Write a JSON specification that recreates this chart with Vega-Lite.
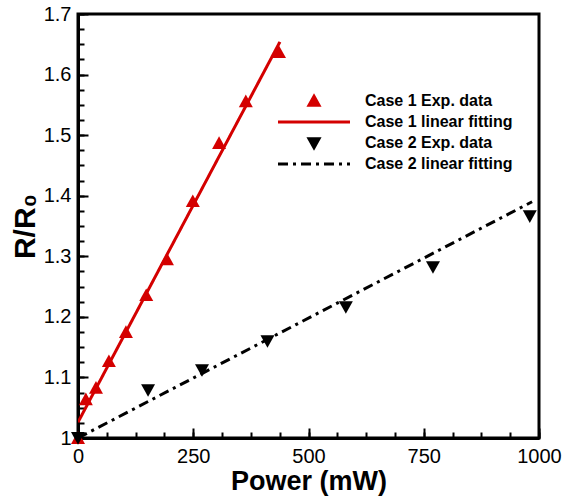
{
  "$schema": "https://vega.github.io/schema/vega-lite/v6.json",
  "width": 461,
  "height": 424,
  "autosize": {"type": "none"},
  "padding": {"left": 78, "top": 14, "right": 27, "bottom": 61},
  "background": "white",
  "data": {
    "values": [
      {"power": 0, "ratio": 1.0, "series": "Case 1 Exp. data", "kind": "exp"},
      {"power": 17, "ratio": 1.064, "series": "Case 1 Exp. data", "kind": "exp"},
      {"power": 39, "ratio": 1.083, "series": "Case 1 Exp. data", "kind": "exp"},
      {"power": 67, "ratio": 1.127, "series": "Case 1 Exp. data", "kind": "exp"},
      {"power": 104, "ratio": 1.175, "series": "Case 1 Exp. data", "kind": "exp"},
      {"power": 148, "ratio": 1.236, "series": "Case 1 Exp. data", "kind": "exp"},
      {"power": 193, "ratio": 1.295, "series": "Case 1 Exp. data", "kind": "exp"},
      {"power": 249, "ratio": 1.391, "series": "Case 1 Exp. data", "kind": "exp"},
      {"power": 306, "ratio": 1.487, "series": "Case 1 Exp. data", "kind": "exp"},
      {"power": 364, "ratio": 1.556, "series": "Case 1 Exp. data", "kind": "exp"},
      {"power": 436, "ratio": 1.637, "series": "Case 1 Exp. data", "kind": "exp"},
      {"power": 0, "ratio": 1.026, "series": "Case 1 linear fitting", "kind": "fit"},
      {"power": 438, "ratio": 1.654, "series": "Case 1 linear fitting", "kind": "fit"},
      {"power": 0, "ratio": 1.0, "series": "Case 2 Exp. data", "kind": "exp"},
      {"power": 152, "ratio": 1.079, "series": "Case 2 Exp. data", "kind": "exp"},
      {"power": 269, "ratio": 1.112, "series": "Case 2 Exp. data", "kind": "exp"},
      {"power": 411, "ratio": 1.16, "series": "Case 2 Exp. data", "kind": "exp"},
      {"power": 581, "ratio": 1.216, "series": "Case 2 Exp. data", "kind": "exp"},
      {"power": 770, "ratio": 1.282, "series": "Case 2 Exp. data", "kind": "exp"},
      {"power": 980, "ratio": 1.366, "series": "Case 2 Exp. data", "kind": "exp"},
      {"power": 0, "ratio": 1.0, "series": "Case 2 linear fitting", "kind": "fit"},
      {"power": 985, "ratio": 1.39, "series": "Case 2 linear fitting", "kind": "fit"}
    ]
  },
  "layer": [
    {
      "transform": [{"filter": "datum.kind === 'fit'"}],
      "mark": {"type": "line", "strokeWidth": 3, "clip": true},
      "encoding": {
        "x": {
          "field": "power", "type": "quantitative",
          "scale": {"domain": [0, 1000], "nice": false, "zero": false},
          "axis": {
            "orient": "bottom", "values": [0, 250, 500, 750, 1000], "format": "d",
            "tickSize": -10, "labelPadding": 18, "domain": true,
            "title": "Power (mW)", "titleFontSize": 27, "titlePadding": 2
          }
        },
        "y": {
          "field": "ratio", "type": "quantitative",
          "scale": {"domain": [1, 1.7], "nice": false, "zero": false},
          "axis": {
            "orient": "left", "values": [1, 1.1, 1.2, 1.3, 1.4, 1.5, 1.6, 1.7], "format": "~g",
            "tickSize": -10, "labelPadding": 17, "domain": true,
            "title": "R/R₀", "titleFontSize": 30, "titlePadding": 3
          }
        },
        "stroke": {
          "field": "series", "type": "nominal",
          "scale": {
            "domain": ["Case 1 Exp. data", "Case 1 linear fitting", "Case 2 Exp. data", "Case 2 linear fitting"],
            "range": ["#d40000", "#d40000", "#000000", "#000000"]
          },
          "legend": {"title": null}
        },
        "strokeDash": {
          "field": "series", "type": "nominal",
          "scale": {
            "domain": ["Case 1 linear fitting", "Case 2 linear fitting"],
            "range": [[1, 0], [10, 5, 3, 5]]
          },
          "legend": null
        }
      }
    },
    {
      "transform": [{"filter": "datum.kind === 'exp'"}],
      "mark": {"type": "point", "filled": true, "opacity": 1, "size": 196},
      "encoding": {
        "x": {
          "field": "power", "type": "quantitative",
          "axis": {
            "orient": "bottom",
            "values": [0, 62.5, 125, 187.5, 250, 312.5, 375, 437.5, 500, 562.5, 625, 687.5, 750, 812.5, 875, 937.5, 1000],
            "labels": false, "domain": false, "title": null, "tickSize": -6
          }
        },
        "y": {
          "field": "ratio", "type": "quantitative",
          "axis": {
            "orient": "left",
            "values": [1, 1.025, 1.05, 1.075, 1.1, 1.125, 1.15, 1.175, 1.2, 1.225, 1.25, 1.275, 1.3, 1.325, 1.35, 1.375, 1.4, 1.425, 1.45, 1.475, 1.5, 1.525, 1.55, 1.575, 1.6, 1.625, 1.65, 1.675, 1.7],
            "labels": false, "domain": false, "title": null, "tickSize": -6
          }
        },
        "fill": {
          "field": "series", "type": "nominal",
          "scale": {
            "domain": ["Case 1 Exp. data", "Case 1 linear fitting", "Case 2 Exp. data", "Case 2 linear fitting"],
            "range": ["#d40000", "#d40000", "#000000", "#000000"]
          },
          "legend": {"title": null}
        },
        "shape": {
          "field": "series", "type": "nominal",
          "scale": {
            "domain": ["Case 1 Exp. data", "Case 1 linear fitting", "Case 2 Exp. data", "Case 2 linear fitting"],
            "range": [
              "M0,-0.95L1,0.85L-1,0.85Z",
              "M-7.2,0H7.2",
              "M0,0.95L1,-0.85L-1,-0.85Z",
              "M-7.2,0H-5.2M-4.2,0H-3.6M-2.6,0H-0.6M0.4,0H1M2,0H4M5,0H5.6M6.6,0H7.2"
            ]
          },
          "legend": {"title": null}
        }
      }
    }
  ],
  "resolve": {"axis": {"x": "independent", "y": "independent"}},
  "config": {
    "view": {"stroke": "black", "strokeWidth": 3},
    "font": "Liberation Sans",
    "axis": {
      "grid": false, "domainColor": "black", "domainWidth": 3, "tickColor": "black", "tickWidth": 2,
      "labelColor": "black", "titleColor": "black", "labelFont": "Liberation Sans", "labelFontSize": 20,
      "titleFont": "Liberation Sans", "titleFontWeight": "bold", "labelOverlap": false, "labelFlush": false
    },
    "legend": {
      "orient": "none", "legendX": 228, "legendY": 79,
      "padding": 0, "symbolSize": 100, "symbolStrokeWidth": 3, "labelOffset": 43, "rowPadding": 2,
      "labelFont": "Liberation Sans", "labelFontWeight": "bold", "labelFontSize": 16,
      "labelColor": "black", "labelLimit": 300, "symbolOpacity": 1
    }
  }
}
